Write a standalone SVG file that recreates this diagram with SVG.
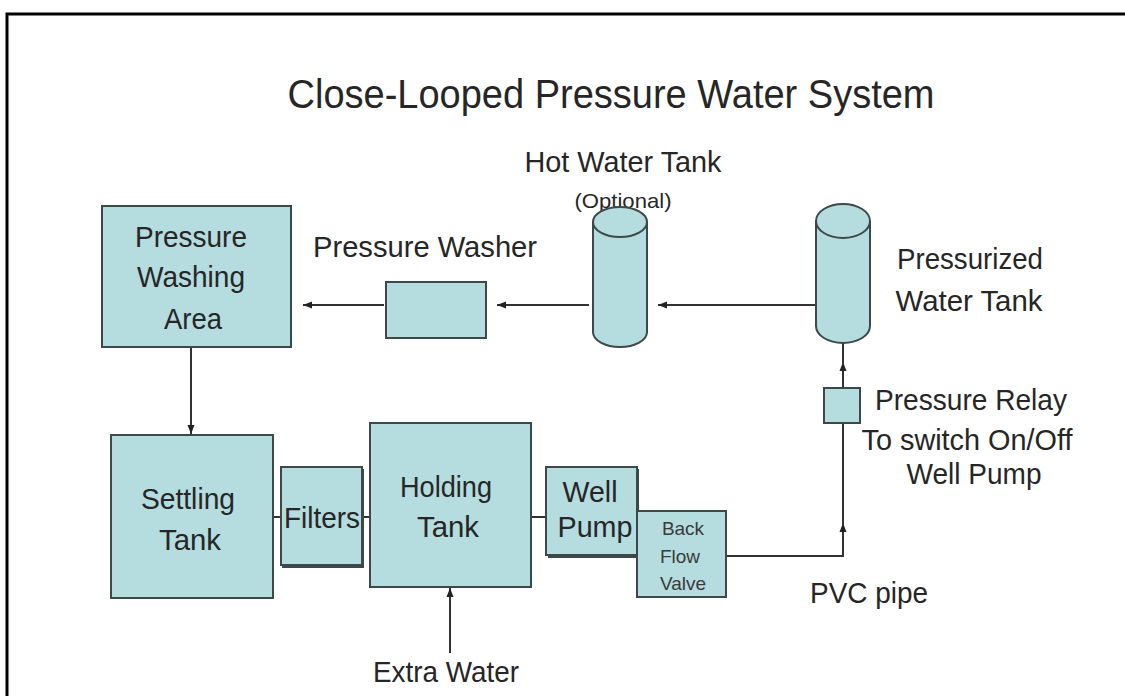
<svg xmlns="http://www.w3.org/2000/svg" width="1125" height="696" viewBox="0 0 1125 696">
  <style>
    .box { fill: #b5dcdf; stroke: #3d4848; stroke-width: 2; }
    .shadow { fill: none; stroke: #3d4848; stroke-width: 2; }
    .line { fill: none; stroke: #333; stroke-width: 2; }
    .t { font-family: "Liberation Sans", Arial, sans-serif; fill: #262626; text-anchor: middle; }
    .lbl { font-size: 30px; }
    .small { font-size: 19px; fill: #3a3a3a; }
  </style>
  <defs>
    <marker id="ah" markerWidth="10" markerHeight="8" refX="9" refY="4" orient="auto" markerUnits="userSpaceOnUse">
      <path d="M0,0.5 L9,4 L0,7.5 Z" fill="#222"/>
    </marker>
  </defs>
  <rect x="0" y="0" width="1125" height="696" fill="#fff"/>
  <path d="M7,696 V14 H1125" fill="none" stroke="#000" stroke-width="3"/>

  <text class="t" x="611" y="108" font-size="40" textLength="647" lengthAdjust="spacingAndGlyphs">Close-Looped Pressure Water System</text>

  <g id="connectors">
    <line class="line" x1="384" y1="305" x2="303" y2="305" marker-end="url(#ah)"/>
    <line class="line" x1="589" y1="305" x2="497" y2="305" marker-end="url(#ah)"/>
    <line class="line" x1="816" y1="305" x2="658" y2="305" marker-end="url(#ah)"/>
    <line class="line" x1="843" y1="388" x2="843" y2="362" marker-end="url(#ah)"/>
    <line class="line" x1="843" y1="365" x2="843" y2="343"/>
    <line class="line" x1="191" y1="347" x2="191" y2="434" marker-end="url(#ah)"/>
    <line class="line" x1="273" y1="517" x2="281" y2="517"/>
    <line class="line" x1="362" y1="517" x2="370" y2="517"/>
    <line class="line" x1="531" y1="517" x2="546" y2="517"/>
    <polyline class="line" points="727,556 843,556 843,523" marker-end="url(#ah)"/>
    <line class="line" x1="843" y1="526" x2="843" y2="423"/>
    <line class="line" x1="450" y1="653" x2="450" y2="588" marker-end="url(#ah)"/>
  </g>

  <g id="pressure-washing-area">
    <rect class="box" x="102" y="206" width="189" height="141"/>
    <text class="t lbl" x="191" y="247" textLength="112" lengthAdjust="spacingAndGlyphs">Pressure</text>
    <text class="t lbl" x="191" y="287" textLength="108" lengthAdjust="spacingAndGlyphs">Washing</text>
    <text class="t lbl" x="193" y="329" textLength="58" lengthAdjust="spacingAndGlyphs">Area</text>
  </g>

  <g id="pressure-washer">
    <text class="t lbl" x="425" y="257" textLength="224" lengthAdjust="spacingAndGlyphs">Pressure Washer</text>
    <rect class="box" x="386" y="282" width="100" height="56"/>
  </g>

  <g id="hot-water-tank">
    <text class="t lbl" x="623" y="172" textLength="197" lengthAdjust="spacingAndGlyphs">Hot Water Tank</text>
    <text class="t" x="623" y="208" font-size="21" textLength="97" lengthAdjust="spacingAndGlyphs">(Optional)</text>
    <path class="box" d="M593,222 V332 A27,15 0 0 0 647,332 V222"/>
    <ellipse class="box" cx="620" cy="222" rx="27" ry="15"/>
  </g>

  <g id="pressurized-water-tank">
    <path class="box" d="M816,221 V326 A27,17 0 0 0 870,326 V221"/>
    <ellipse class="box" cx="843" cy="221" rx="27" ry="17"/>
    <text class="t lbl" x="970" y="269" textLength="146" lengthAdjust="spacingAndGlyphs">Pressurized</text>
    <text class="t lbl" x="969" y="311" textLength="147" lengthAdjust="spacingAndGlyphs">Water Tank</text>
  </g>

  <g id="pressure-relay">
    <rect class="box" x="824" y="388" width="36" height="35"/>
    <text class="t lbl" x="971" y="410" textLength="192" lengthAdjust="spacingAndGlyphs">Pressure Relay</text>
    <text class="t lbl" x="967" y="450" textLength="211" lengthAdjust="spacingAndGlyphs">To switch On/Off</text>
    <text class="t lbl" x="974" y="484" textLength="135" lengthAdjust="spacingAndGlyphs">Well Pump</text>
  </g>

  <g id="settling-tank">
    <rect class="box" x="111" y="435" width="162" height="163"/>
    <text class="t lbl" x="188" y="509" textLength="94" lengthAdjust="spacingAndGlyphs">Settling</text>
    <text class="t lbl" x="190" y="550" textLength="62" lengthAdjust="spacingAndGlyphs">Tank</text>
  </g>

  <g id="filters">
    <rect class="shadow" x="283" y="470" width="80" height="97"/>
    <rect class="box" x="281" y="467" width="81" height="98"/>
    <text class="t lbl" x="322" y="528" textLength="76" lengthAdjust="spacingAndGlyphs">Filters</text>
  </g>

  <g id="holding-tank">
    <rect class="box" x="370" y="423" width="161" height="164"/>
    <text class="t lbl" x="446" y="497" textLength="92" lengthAdjust="spacingAndGlyphs">Holding</text>
    <text class="t lbl" x="448" y="537" textLength="62" lengthAdjust="spacingAndGlyphs">Tank</text>
  </g>

  <g id="well-pump">
    <rect class="shadow" x="549" y="470" width="89" height="87"/>
    <rect class="box" x="546" y="467" width="91" height="88"/>
    <text class="t lbl" x="590" y="502" textLength="55" lengthAdjust="spacingAndGlyphs">Well</text>
    <text class="t lbl" x="595" y="537" textLength="75" lengthAdjust="spacingAndGlyphs">Pump</text>
  </g>

  <g id="back-flow-valve">
    <rect class="box" x="637" y="511" width="89" height="86"/>
    <text class="t small" x="683" y="535">Back</text>
    <text class="t small" x="680" y="563">Flow</text>
    <text class="t small" x="683" y="590">Valve</text>
  </g>

  <text class="t lbl" x="869" y="603" textLength="118" lengthAdjust="spacingAndGlyphs">PVC pipe</text>
  <text class="t lbl" x="446" y="682" textLength="146" lengthAdjust="spacingAndGlyphs">Extra Water</text>
</svg>
